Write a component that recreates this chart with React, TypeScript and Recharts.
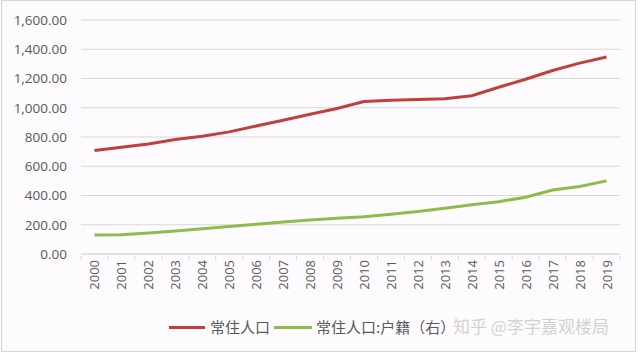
import React from "react";
import { LineChart, Line, XAxis, YAxis, CartesianGrid } from "recharts";

const years = ["2000","2001","2002","2003","2004","2005","2006","2007","2008","2009","2010","2011","2012","2013","2014","2015","2016","2017","2018","2019"];
const resident = [707, 730, 752, 783, 805, 835, 875, 915, 955, 995, 1043, 1052, 1056, 1062, 1082, 1140, 1195, 1255, 1305, 1347];
const registered = [130, 132, 143, 157, 172, 188, 203, 218, 232, 245, 255, 272, 290, 313, 336, 358, 388, 438, 461, 500];
const seriesNames = ["常住人口", "常住人口:户籍（右）"];
const yTicks = [0, 200, 400, 600, 800, 1000, 1200, 1400, 1600];
const watermark = "知乎 @李宇嘉观楼局";

const data = years.map((y, i) => ({ idx: i, year: y, resident: resident[i], registered: registered[i] }));
const allTicks: number[] = [];
years.forEach((_, i) => {
  allTicks.push(i - 0.5);
  allTicks.push(i);
});
allTicks.push(years.length - 0.5);

const fmt = (v: number) =>
  v.toLocaleString("en-US", { minimumFractionDigits: 2, maximumFractionDigits: 2 });

const RED = "#c0413b";
const GREEN = "#8fbb4b";
const FONT = "'Open Sans', sans-serif";

const YearTick = (props: any) => {
  const { x, y, payload } = props;
  const v = payload.value as number;
  if (!Number.isInteger(v)) {
    return <line x1={x} x2={x} y1={y} y2={y + 4} stroke="#d9d9d9" strokeWidth={1} />;
  }
  return (
    <text
      x={x + 5}
      y={y + 4}
      transform={`rotate(-90 ${x + 5} ${y + 4})`}
      textAnchor="end"
      fontSize={13}
      fill="#595959"
      fontFamily={FONT}
    >
      {years[v]}
    </text>
  );
};

export default function App() {
  return (
    <div style={{ position: "absolute", left: 0, top: 0, width: 640, height: 355, background: "#fff" }}>
      <div
        style={{
          position: "absolute",
          left: 1,
          top: 0,
          width: 635,
          height: 352,
          border: "1px solid #d4d4d4",
          background: "#fdfbfd",
          boxSizing: "border-box",
        }}
      />
      <div style={{ position: "absolute", left: 0, top: 0 }}>
        <LineChart width={640} height={355} data={data} margin={{ top: 20, right: 20, bottom: 0, left: 0 }}>
          <CartesianGrid horizontal vertical={false} stroke="#d9d9d9" strokeWidth={1} />
          <XAxis
            type="number"
            dataKey="idx"
            domain={[-0.5, years.length - 0.5]}
            ticks={allTicks}
            interval={0}
            tick={<YearTick />}
            tickSize={0}
            tickLine={false}
            axisLine={{ stroke: "#d9d9d9" }}
            height={101}
            allowDataOverflow
          />
          <YAxis
            type="number"
            domain={[0, 1600]}
            ticks={yTicks}
            tickFormatter={fmt}
            tick={{ fontSize: 13.5, fill: "#595959", fontFamily: FONT }}
            tickLine={false}
            axisLine={false}
            width={81}
            tickMargin={8}
          />
          <Line dataKey="resident" stroke={RED} strokeWidth={3} dot={false} isAnimationActive={false} />
          <Line dataKey="registered" stroke={GREEN} strokeWidth={3} dot={false} isAnimationActive={false} />
        </LineChart>
      </div>
      <div
        style={{
          position: "absolute",
          top: 317,
          left: 169,
          display: "flex",
          alignItems: "center",
          fontFamily: "'Noto Sans CJK SC', sans-serif",
          fontSize: 15,
          color: "#595959",
          whiteSpace: "nowrap",
          lineHeight: "20px",
        }}
      >
        <span style={{ display: "inline-block", width: 36, height: 3, background: RED, marginRight: 5 }} />
        <span>{seriesNames[0]}</span>
        <span style={{ display: "inline-block", width: 38, height: 3, background: GREEN, marginLeft: 4, marginRight: 4 }} />
        <span>{seriesNames[1]}</span>
      </div>
      <div
        style={{
          position: "absolute",
          top: 315,
          left: 453,
          fontFamily: "'Noto Sans CJK SC', sans-serif",
          fontSize: 17,
          color: "#d2d2d2",
          whiteSpace: "nowrap",
          lineHeight: "22px",
        }}
      >
        {watermark}
      </div>
    </div>
  );
}
